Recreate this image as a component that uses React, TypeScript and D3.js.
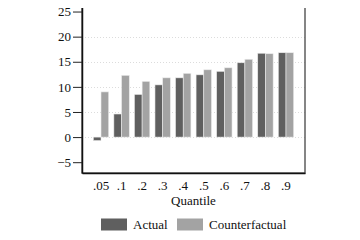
import React, { useEffect, useRef } from 'react';
import * as d3 from 'd3';

const QUANTILES = ['.05', '.1', '.2', '.3', '.4', '.5', '.6', '.7', '.8', '.9'];
const ACTUAL = [-0.7, 4.6, 8.5, 10.4, 11.8, 12.4, 13.1, 14.8, 16.7, 16.8];
const COUNTERFACTUAL = [9.0, 12.3, 11.1, 11.8, 12.7, 13.4, 13.8, 15.5, 16.6, 16.8];
const Y_TICKS = [-5, 0, 5, 10, 15, 20, 25];
const SERIES = [
    { key: 'Actual', values: ACTUAL, color: '#5f5f5f' },
    { key: 'Counterfactual', values: COUNTERFACTUAL, color: '#a3a3a3' },
];

const width = 360;
const height = 240;
const margin = { top: 1, right: 55, bottom: 67, left: 82 };
const FONT = 'Liberation Serif, Times New Roman, serif';

const App = () => {
    const svgRef = useRef<SVGSVGElement>(null);

    useEffect(() => {
        const svg = d3.select(svgRef.current);
        svg.selectAll('*').remove();

        const x = d3.scaleBand()
            .domain(QUANTILES)
            .range([margin.left, width - margin.right])
            .paddingInner(0.25)
            .paddingOuter(0.55);
        const x1 = d3.scaleBand()
            .domain(SERIES.map(s => s.key))
            .range([0, x.bandwidth()]);
        const y = d3.scaleLinear()
            .domain([-7.15, 27.1])
            .range([height - margin.bottom, margin.top]);

        svg.append('rect')
            .attr('width', width).attr('height', height).attr('fill', '#fff');

        // grid
        svg.append('g')
            .selectAll('line')
            .data(Y_TICKS.filter(t => t >= 0 && t < 25))
            .enter()
            .append('line')
            .attr('x1', margin.left).attr('x2', width - margin.right)
            .attr('y1', d => Math.round(y(d)) + 0.5).attr('y2', d => Math.round(y(d)) + 0.5)
            .attr('stroke', '#dcdcdc')
            .attr('stroke-dasharray', '1,2');

        // bars
        SERIES.forEach(s => {
            svg.append('g')
                .selectAll('rect')
                .data(s.values)
                .enter()
                .append('rect')
                .attr('x', (d, i) => (x(QUANTILES[i]) ?? 0) + (x1(s.key) ?? 0))
                .attr('y', d => y(Math.max(0, d)))
                .attr('width', x1.bandwidth())
                .attr('height', d => Math.abs(y(d) - y(0)))
                .attr('fill', s.color)
                .attr('stroke', '#ececec')
                .attr('stroke-width', 0.6);
        });

        // frame
        svg.append('rect')
            .attr('x', margin.left).attr('y', margin.top - 0.5)
            .attr('width', width - margin.left - margin.right)
            .attr('height', height - margin.top - margin.bottom + 0.5)
            .attr('fill', 'none')
            .attr('stroke', '#444')
            .attr('stroke-width', 1.3);

        // y axis
        const yAxis = svg.append('g')
            .attr('transform', `translate(${margin.left},0)`)
            .call(d3.axisLeft(y).tickValues(Y_TICKS).tickSize(9).tickSizeOuter(0).tickPadding(2)
                .tickFormat(d => String(d).replace('-', '\u2212')));
        yAxis.attr('font-family', FONT).attr('font-size', 13);
        yAxis.select('.domain').attr('stroke', '#111').attr('stroke-width', 1.5);
        yAxis.selectAll('.tick line').attr('stroke', '#222');
        yAxis.selectAll('text').attr('fill', '#111');

        // x axis
        const xAxis = svg.append('g')
            .attr('transform', `translate(0,${height - margin.bottom})`)
            .call(d3.axisBottom(x).tickSize(0).tickSizeOuter(0).tickPadding(8));
        xAxis.attr('font-family', FONT).attr('font-size', 13);
        xAxis.select('.domain').attr('stroke', '#111').attr('stroke-width', 1.5);
        xAxis.selectAll('text').attr('fill', '#111');

        svg.append('text')
            .attr('x', (margin.left + width - margin.right) / 2)
            .attr('y', 205)
            .attr('text-anchor', 'middle')
            .attr('font-family', FONT)
            .attr('font-size', 13)
            .attr('fill', '#111')
            .text('Quantile');

        // legend
        const legendX = [101, 177];
        const legend = svg.append('g')
            .attr('font-family', FONT)
            .attr('font-size', 13);
        SERIES.forEach((s, i) => {
            legend.append('rect')
                .attr('x', legendX[i]).attr('y', 218.5)
                .attr('width', 26).attr('height', 12)
                .attr('fill', s.color);
            legend.append('text')
                .attr('x', legendX[i] + 32).attr('y', 229)
                .attr('fill', '#111')
                .text(s.key);
        });
    }, []);

    return (
        <div style={{ width: 360, height: 240, margin: -8 }}>
            <svg ref={svgRef} width={width} height={height} style={{ display: 'block' }}></svg>
        </div>
    );
};

export default App;
